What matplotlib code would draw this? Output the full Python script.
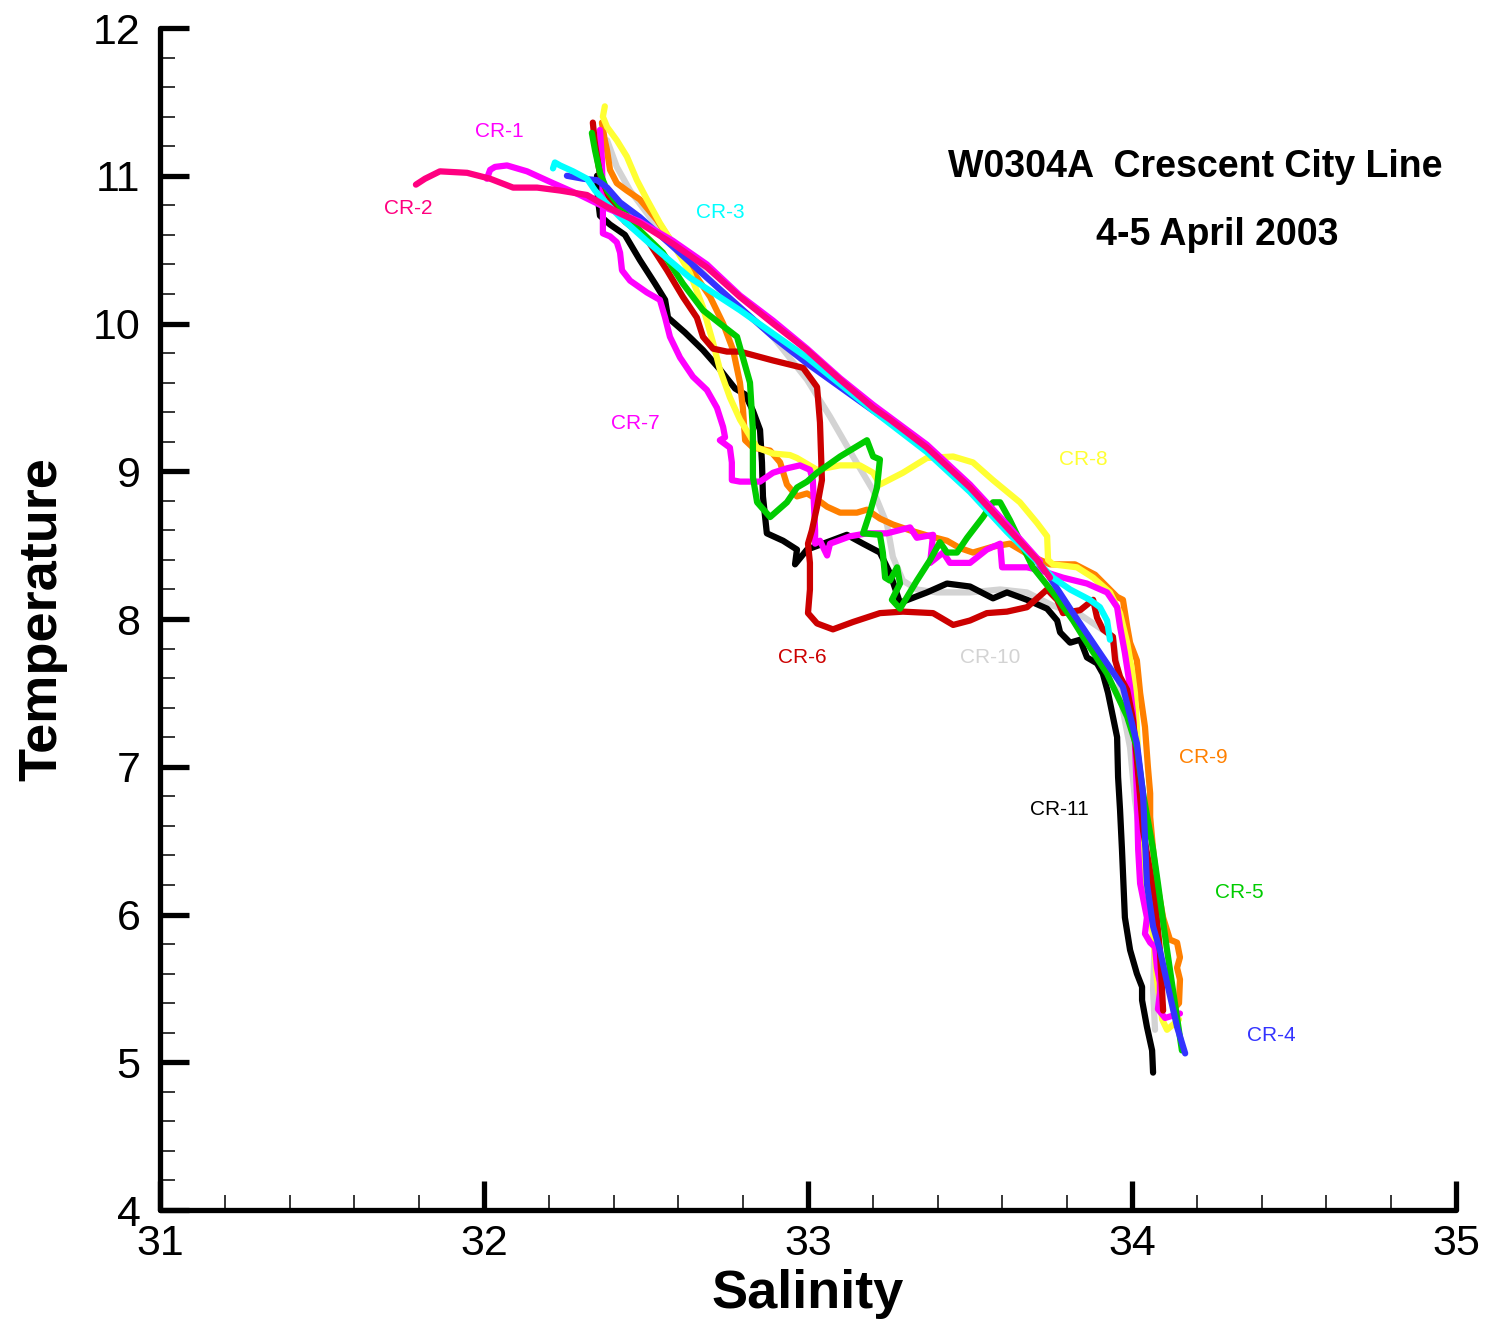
import matplotlib
matplotlib.use("Agg")
import matplotlib.pyplot as plt
from matplotlib.ticker import MultipleLocator

plt.rcParams['font.family'] = ['Liberation Sans', 'DejaVu Sans']

# T-S profiles, W0304A Crescent City line (salinity, temperature)
cr1_sal = [32.009, 32.019, 32.034, 32.071, 32.133, 32.213, 32.296, 32.380, 32.481, 32.583,
           32.688, 32.790, 32.892, 32.997, 33.099, 33.201, 33.367, 33.500, 33.614, 33.716]
cr1_temp = [10.98, 11.04, 11.06, 11.07, 11.03, 10.95, 10.87, 10.78, 10.69, 10.56,
            10.40, 10.19, 10.02, 9.83, 9.63, 9.45, 9.18, 8.91, 8.64, 8.39]

cr2_sal = [31.790, 31.818, 31.864, 31.948, 32.019, 32.090, 32.164, 32.235, 32.318, 32.380,
           32.481, 32.583, 32.688, 32.790, 32.892, 32.997, 33.099, 33.201, 33.253, 33.367,
           33.500, 33.614, 33.707, 33.747]
cr2_temp = [10.94, 10.98, 11.03, 11.02, 10.98, 10.92, 10.92, 10.90, 10.87, 10.79,
            10.68, 10.54, 10.38, 10.18, 10.00, 9.82, 9.62, 9.43, 9.35, 9.16,
            8.89, 8.62, 8.40, 8.28]

cr3_sal = [32.213, 32.219, 32.235, 32.275, 32.318, 32.343, 32.367, 32.420, 32.512, 32.636,
           32.790, 32.997, 33.201, 33.367, 33.500, 33.614, 33.716, 33.756, 33.809, 33.870,
           33.901, 33.923, 33.932]
cr3_temp = [11.05, 11.09, 11.07, 11.03, 10.98, 10.90, 10.84, 10.72, 10.54, 10.31,
            10.09, 9.77, 9.41, 9.13, 8.86, 8.59, 8.37, 8.28, 8.20, 8.13,
            8.08, 7.99, 7.86]

cr4_sal = [32.256, 32.306, 32.349, 32.380, 32.420, 32.481, 32.583, 32.688, 32.790, 32.892,
           32.997, 33.099, 33.201, 33.367, 33.500, 33.633, 33.738, 33.818, 33.901, 33.972,
           34.015, 34.034, 34.046, 34.065, 34.086, 34.108, 34.139, 34.164]
cr4_temp = [11.00, 10.98, 10.97, 10.92, 10.82, 10.72, 10.52, 10.31, 10.11, 9.91,
            9.73, 9.57, 9.41, 9.16, 8.89, 8.58, 8.31, 8.04, 7.77, 7.54,
            7.16, 6.82, 6.21, 5.92, 5.76, 5.54, 5.24, 5.06]

cr5_sal = [32.333, 32.343, 32.358, 32.380, 32.420, 32.481, 32.552, 32.614, 32.676, 32.728,
           32.781, 32.799, 32.821, 32.830, 32.830, 32.843, 32.883, 32.935, 32.966, 32.997,
           33.028, 33.099, 33.182, 33.201, 33.222, 33.213, 33.191, 33.170, 33.222, 33.231,
           33.238, 33.253, 33.275, 33.284, 33.259, 33.284, 33.336, 33.377, 33.407, 33.429,
           33.460, 33.491, 33.540, 33.571, 33.593, 33.623, 33.654, 33.694, 33.756, 33.818,
           33.849, 33.923, 33.985, 34.015, 34.034, 34.065, 34.080, 34.108, 34.154]
cr5_temp = [11.29, 11.17, 11.02, 10.90, 10.79, 10.63, 10.48, 10.27, 10.09, 10.00,
            9.91, 9.77, 9.60, 9.28, 8.96, 8.79, 8.69, 8.79, 8.89, 8.93,
            8.99, 9.10, 9.21, 9.10, 9.08, 8.89, 8.72, 8.58, 8.57, 8.45,
            8.28, 8.26, 8.35, 8.24, 8.13, 8.07, 8.26, 8.40, 8.52, 8.45,
            8.45, 8.55, 8.69, 8.79, 8.79, 8.67, 8.53, 8.35, 8.18, 7.99,
            7.88, 7.63, 7.34, 7.13, 6.82, 6.44, 6.21, 5.76, 5.08]

cr6_sal = [32.336, 32.343, 32.358, 32.389, 32.435, 32.503, 32.565, 32.614, 32.657, 32.676,
           32.707, 32.750, 32.790, 32.892, 32.985, 33.028, 33.037, 33.043, 33.028, 33.012,
           33.000, 33.006, 33.006, 33.000, 33.028, 33.077, 33.139, 33.222, 33.293, 33.386,
           33.448, 33.500, 33.552, 33.614, 33.676, 33.738, 33.769, 33.787, 33.840, 33.880,
           33.892, 33.910, 33.941, 33.948, 33.963, 33.985, 34.003, 34.015, 34.034, 34.071,
           34.086, 34.096]
cr6_temp = [11.36, 11.21, 11.01, 10.84, 10.69, 10.57, 10.36, 10.18, 10.04, 9.91,
            9.83, 9.81, 9.81, 9.75, 9.70, 9.57, 9.33, 8.94, 8.76, 8.60,
            8.51, 8.38, 8.20, 8.04, 7.97, 7.93, 7.98, 8.04, 8.05, 8.04,
            7.96, 7.99, 8.04, 8.05, 8.08, 8.20, 8.13, 8.04, 8.06, 8.13,
            8.01, 7.93, 7.88, 7.72, 7.61, 7.52, 7.32, 7.05, 6.57, 6.10,
            5.76, 5.35]

cr7_sal = [32.358, 32.364, 32.367, 32.367, 32.389, 32.410, 32.420, 32.426, 32.451, 32.503,
           32.543, 32.559, 32.574, 32.605, 32.645, 32.688, 32.719, 32.738, 32.744, 32.728,
           32.759, 32.765, 32.765, 32.790, 32.852, 32.892, 32.935, 32.975, 33.006, 33.015,
           33.022, 33.022, 33.037, 33.059, 33.068, 33.130, 33.182, 33.244, 33.315, 33.336,
           33.386, 33.377, 33.417, 33.438, 33.500, 33.552, 33.593, 33.599, 33.676, 33.716,
           33.787, 33.861, 33.923, 33.954, 33.963, 33.978, 33.994, 34.003, 34.009, 34.015,
           34.019, 34.025, 34.046, 34.040, 34.056, 34.071, 34.077, 34.086, 34.086, 34.080,
           34.102, 34.148]
cr7_temp = [11.31, 11.11, 10.79, 10.61, 10.59, 10.55, 10.48, 10.36, 10.29, 10.21,
            10.16, 10.04, 9.91, 9.77, 9.64, 9.55, 9.43, 9.30, 9.23, 9.21,
            9.16, 9.06, 8.94, 8.93, 8.93, 8.99, 9.02, 9.04, 9.01, 8.94,
            8.60, 8.51, 8.53, 8.43, 8.51, 8.56, 8.58, 8.58, 8.62, 8.55,
            8.57, 8.38, 8.45, 8.38, 8.38, 8.47, 8.51, 8.35, 8.35, 8.33,
            8.28, 8.24, 8.18, 8.08, 7.95, 7.77, 7.54, 7.36, 7.16, 6.82,
            6.44, 6.21, 5.98, 5.87, 5.81, 5.78, 5.64, 5.54, 5.47, 5.36,
            5.30, 5.33]

cr8_sal = [32.373, 32.367, 32.380, 32.410, 32.441, 32.472, 32.503, 32.543, 32.583, 32.636,
           32.676, 32.707, 32.728, 32.759, 32.790, 32.843, 32.892, 32.944, 32.966, 33.028,
           33.099, 33.160, 33.201, 33.222, 33.293, 33.367, 33.448, 33.509, 33.571, 33.654,
           33.707, 33.738, 33.741, 33.756, 33.830, 33.880, 33.932, 33.963, 33.985, 34.000,
           34.009, 34.015, 34.019, 34.025, 34.056, 34.071, 34.077, 34.093, 34.108, 34.145]
cr8_temp = [11.47, 11.40, 11.33, 11.24, 11.13, 10.97, 10.84, 10.68, 10.54, 10.34,
            10.11, 9.87, 9.69, 9.50, 9.35, 9.16, 9.12, 9.11, 9.09, 9.01,
            9.04, 9.04, 8.99, 8.91, 8.99, 9.09, 9.10, 9.06, 8.94, 8.79,
            8.65, 8.56, 8.40, 8.37, 8.35, 8.28, 8.18, 8.04, 7.84, 7.65,
            7.50, 7.27, 7.05, 6.44, 6.03, 5.71, 5.56, 5.29, 5.22, 5.29]

cr9_sal = [32.364, 32.373, 32.380, 32.389, 32.410, 32.441, 32.481, 32.534, 32.583, 32.636,
           32.698, 32.738, 32.769, 32.790, 32.799, 32.806, 32.830, 32.883, 32.914, 32.935,
           32.966, 32.997, 33.028, 33.059, 33.099, 33.151, 33.182, 33.222, 33.262, 33.315,
           33.377, 33.429, 33.469, 33.509, 33.571, 33.623, 33.685, 33.747, 33.824, 33.886,
           33.954, 33.972, 33.985, 33.994, 34.015, 34.025, 34.040, 34.049, 34.056, 34.056,
           34.065, 34.077, 34.096, 34.117, 34.139, 34.148, 34.139, 34.148, 34.145, 34.133]
cr9_temp = [11.36, 11.24, 11.17, 11.04, 10.95, 10.90, 10.84, 10.70, 10.54, 10.38,
            10.18, 10.00, 9.82, 9.60, 9.43, 9.21, 9.16, 9.14, 9.06, 8.91,
            8.83, 8.85, 8.81, 8.76, 8.72, 8.72, 8.74, 8.68, 8.64, 8.60,
            8.56, 8.53, 8.48, 8.45, 8.49, 8.51, 8.43, 8.37, 8.37, 8.30,
            8.15, 8.13, 7.95, 7.84, 7.72, 7.50, 7.27, 7.00, 6.82, 6.66,
            6.44, 6.21, 5.98, 5.83, 5.81, 5.71, 5.64, 5.56, 5.40, 5.37]

cr10_sal = [32.380, 32.410, 32.451, 32.512, 32.636, 32.750, 32.892, 32.997, 33.068, 33.139,
            33.201, 33.244, 33.262, 33.293, 33.336, 33.398, 33.500, 33.593, 33.676, 33.756,
            33.840, 33.941, 33.972, 33.994, 34.009, 34.040, 34.071, 34.065, 34.071]
cr10_temp = [11.24, 11.06, 10.90, 10.72, 10.43, 10.18, 9.91, 9.62, 9.37, 9.10,
             8.87, 8.64, 8.42, 8.26, 8.20, 8.18, 8.18, 8.20, 8.18, 8.09,
             8.03, 7.88, 7.38, 7.13, 6.78, 6.30, 5.90, 5.49, 5.22]

cr11_sal = [32.349, 32.352, 32.358, 32.389, 32.435, 32.481, 32.528, 32.559, 32.568, 32.620,
            32.676, 32.728, 32.775, 32.806, 32.830, 32.852, 32.858, 32.861, 32.873, 32.923,
            32.966, 32.960, 32.997, 33.059, 33.120, 33.170, 33.222, 33.253, 33.284, 33.367,
            33.429, 33.500, 33.571, 33.614, 33.676, 33.738, 33.769, 33.778, 33.809, 33.840,
            33.861, 33.892, 33.910, 33.926, 33.941, 33.954, 33.957, 33.963, 33.969, 33.978,
            33.994, 34.015, 34.031, 34.031, 34.046, 34.062, 34.065]
cr11_temp = [11.00, 10.84, 10.73, 10.67, 10.60, 10.43, 10.27, 10.16, 10.04, 9.94,
             9.82, 9.69, 9.56, 9.52, 9.41, 9.28, 9.06, 8.83, 8.58, 8.53,
             8.47, 8.37, 8.47, 8.52, 8.57, 8.51, 8.45, 8.31, 8.11, 8.18,
             8.24, 8.22, 8.14, 8.18, 8.13, 8.07, 7.99, 7.91, 7.84, 7.86,
             7.74, 7.70, 7.63, 7.50, 7.34, 7.20, 6.93, 6.71, 6.44, 5.98,
             5.76, 5.60, 5.51, 5.42, 5.24, 5.08, 4.93]

# (name, salinity, temperature, colour), drawn in this order
profiles = [
    ("CR-10", cr10_sal, cr10_temp, "#D3D3D3"),
    ("CR-11", cr11_sal, cr11_temp, "#000000"),
    ("CR-9", cr9_sal, cr9_temp, "#FF8000"),
    ("CR-8", cr8_sal, cr8_temp, "#FFFF33"),
    ("CR-7", cr7_sal, cr7_temp, "#FF00FF"),
    ("CR-6", cr6_sal, cr6_temp, "#CC0000"),
    ("CR-5", cr5_sal, cr5_temp, "#00CC00"),
    ("CR-4", cr4_sal, cr4_temp, "#3333FF"),
    ("CR-3", cr3_sal, cr3_temp, "#00FFFF"),
    ("CR-1", cr1_sal, cr1_temp, "#FF00FF"),
    ("CR-2", cr2_sal, cr2_temp, "#FF0080"),
]

# where the station names are written (salinity, temperature)
label_pos = {
    "CR-1": (32.046, 11.30), "CR-2": (31.765, 10.78), "CR-3": (32.728, 10.75),
    "CR-7": (32.466, 9.32), "CR-8": (33.849, 9.08), "CR-6": (32.981, 7.74),
    "CR-10": (33.562, 7.74), "CR-9": (34.219, 7.06), "CR-11": (33.775, 6.71),
    "CR-5": (34.330, 6.15), "CR-4": (34.429, 5.18),
}

fig = plt.figure(figsize=(14.85, 13.22), dpi=100)
ax = fig.add_axes([0.1077, 0.0847, 0.8728, 0.8941])

for name, s, t, c in profiles:
    ax.plot(s, t, color=c, lw=4.5, solid_capstyle='round', solid_joinstyle='round')
    lx, ly = label_pos[name]
    ax.text(lx, ly, name, color=c, fontsize=15, ha='center', va='center')

ax.text(0.7986, 0.8824, "W0304A  Crescent City Line", transform=ax.transAxes,
        fontsize=27, fontweight='bold', ha='center', va='center')
ax.text(0.8156, 0.8249, "4-5 April 2003", transform=ax.transAxes,
        fontsize=27, fontweight='bold', ha='center', va='center')

ax.set_xlim(31, 35)
ax.set_ylim(4, 12)
ax.xaxis.set_major_locator(MultipleLocator(1))
ax.xaxis.set_minor_locator(MultipleLocator(0.2))
ax.yaxis.set_major_locator(MultipleLocator(1))
ax.yaxis.set_minor_locator(MultipleLocator(0.2))

for side in ['top', 'right']:
    ax.spines[side].set_visible(False)
for side in ['left', 'bottom']:
    ax.spines[side].set_linewidth(3.8)
    ax.spines[side].set_capstyle('round')

ax.tick_params(which='major', direction='in', length=21, width=3.8, labelsize=31)
ax.tick_params(which='minor', direction='in', length=11, width=1.1)
ax.tick_params(axis='x', which='major', pad=10)
ax.tick_params(axis='y', which='major', pad=14)

ax.set_xlabel("Salinity", fontsize=39, fontweight='bold', labelpad=4)
ax.set_ylabel("Temperature", fontsize=39, fontweight='bold', labelpad=18)

fig.savefig("out.png", dpi=100)
